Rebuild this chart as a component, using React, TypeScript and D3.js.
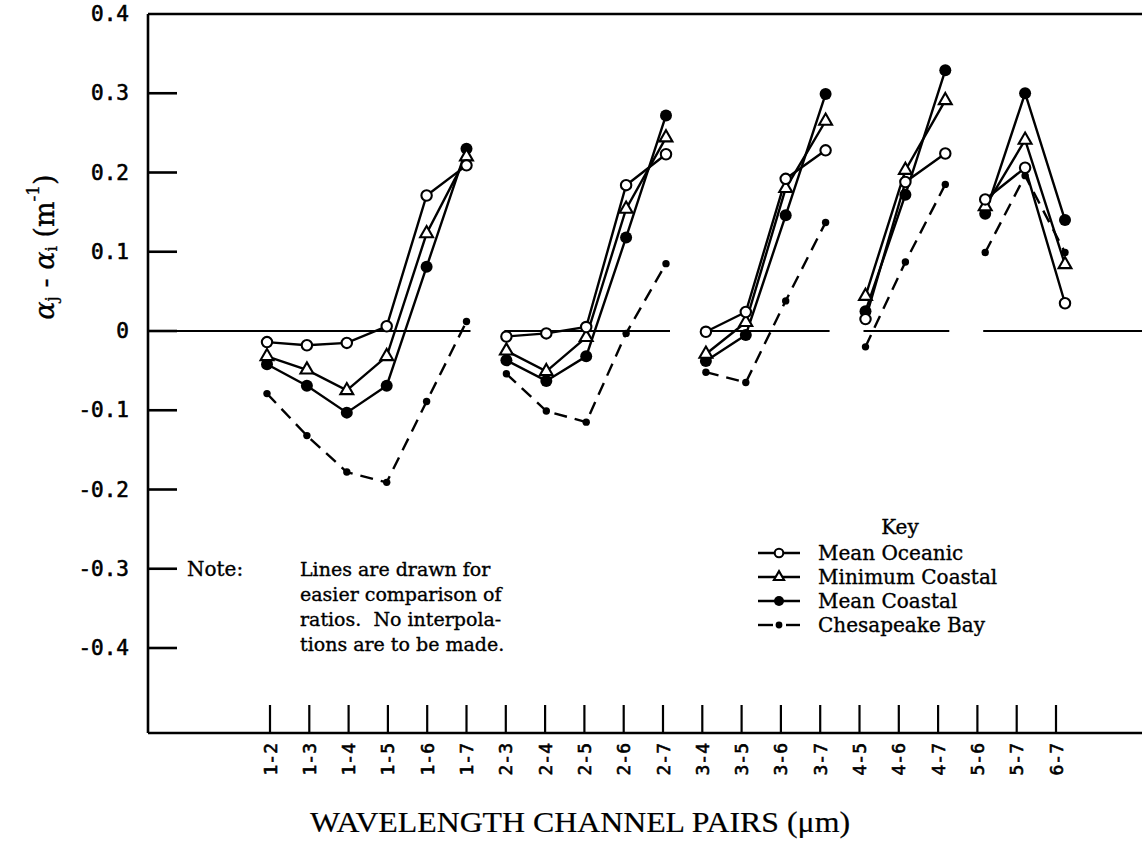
import React from 'react';
import * as d3 from 'd3';

const categories = ["1-2","1-3","1-4","1-5","1-6","1-7","2-3","2-4","2-5","2-6","2-7","3-4","3-5","3-6","3-7","4-5","4-6","4-7","5-6","5-7","6-7"];
const groupRanges: [number, number][] = [[0, 5], [6, 10], [11, 14], [15, 17], [18, 20]];

const meanOceanic = [-0.014, -0.018, -0.015, 0.006, 0.171, 0.209, -0.007, -0.003, 0.005, 0.184, 0.223, -0.001, 0.024, 0.192, 0.228, 0.015, 0.188, 0.224, 0.166, 0.206, 0.035];
const minimumCoastal = [-0.032, -0.049, -0.075, -0.032, 0.123, 0.220, -0.025, -0.051, -0.008, 0.154, 0.244, -0.029, 0.011, 0.180, 0.265, 0.044, 0.203, 0.291, 0.157, 0.241, 0.084];
const meanCoastal = [-0.042, -0.069, -0.103, -0.069, 0.081, 0.230, -0.037, -0.063, -0.032, 0.118, 0.272, -0.038, -0.005, 0.146, 0.299, 0.025, 0.172, 0.329, 0.148, 0.300, 0.140];
const chesapeakeBay = [-0.079, -0.132, -0.178, -0.191, -0.089, 0.012, -0.054, -0.101, -0.115, -0.003, 0.085, -0.052, -0.065, 0.038, 0.137, -0.020, 0.087, 0.185, 0.099, 0.196, 0.099];

const yTicks = [0.3, 0.2, 0.1, 0, -0.1, -0.2, -0.3, -0.4];
const yTickLabels = ["0.4", "0.3", "0.2", "0.1", "0", "-0.1", "-0.2", "-0.3", "-0.4"];
const yLabelValues = [0.4, 0.3, 0.2, 0.1, 0, -0.1, -0.2, -0.3, -0.4];

const legendLabels = ["Mean Oceanic", "Minimum Coastal", "Mean Coastal", "Chesapeake Bay"];
const noteLines = ["Lines are drawn for", "easier comparison of", "ratios.  No interpola-", "tions are to be made."];

type Marker = 'open' | 'tri' | 'filled' | 'small';
const seriesList: { values: number[]; marker: Marker; dashed: boolean }[] = [
  { values: chesapeakeBay, marker: 'small', dashed: true },
  { values: meanCoastal, marker: 'filled', dashed: false },
  { values: minimumCoastal, marker: 'tri', dashed: false },
  { values: meanOceanic, marker: 'open', dashed: false },
];
const legendMarkers: Marker[] = ['open', 'tri', 'filled', 'small'];

const W = 1142, H = 849;
const LEFT = 148, TOP = 14, BOTTOM = 733, RIGHT = 1142;
const triPath = d3.symbol().type(d3.symbolTriangle).size(72)() as string;
const triPathSmall = d3.symbol().type(d3.symbolTriangle).size(45)() as string;

function MarkerGlyph({ m, cx, cy, small }: { m: Marker; cx: number; cy: number; small?: boolean }) {
  if (m === 'open') return <circle cx={cx} cy={cy} r={small ? 4.3 : 5.2} fill="#fff" stroke="#000" strokeWidth={2.1} />;
  if (m === 'filled') return <circle cx={cx} cy={cy} r={small ? 5 : 6} fill="#000" />;
  if (m === 'small') return <circle cx={cx} cy={cy} r={small ? 3.4 : 3.7} fill="#000" />;
  return <path d={small ? triPathSmall : triPath} transform={`translate(${cx},${cy})`} fill="#fff" stroke="#000" strokeWidth={2.1} />;
}

export default function App() {
  const x = d3.scalePoint<string>().domain(categories).range([267, 1065]);
  const xt = d3.scalePoint<string>().domain(categories).range([270, 1056]);
  const y = d3.scaleLinear().domain([-0.4, 0.4]).range([648, 14]);

  const mono = "'DejaVu Sans Mono', monospace";
  const serif = "'DejaVu Serif', serif";
  const ink = { fill: '#000', stroke: '#000', strokeWidth: 0.35 };

  return (
    <svg width={W} height={H} style={{ position: 'absolute', left: 0, top: 0, background: '#fff' }}>
      <rect x={0} y={0} width={W} height={H} fill="#fff" />
      {/* frame */}
      <line x1={LEFT} y1={TOP} x2={LEFT} y2={BOTTOM} stroke="#000" strokeWidth={2.6} />
      <line x1={LEFT} y1={TOP} x2={RIGHT} y2={TOP} stroke="#000" strokeWidth={2.6} />
      <line x1={LEFT} y1={BOTTOM} x2={RIGHT} y2={BOTTOM} stroke="#000" strokeWidth={2.6} />
      {/* y ticks */}
      {yTicks.map((v) => (
        <line key={v} x1={LEFT} x2={LEFT + 29} y1={y(v)} y2={y(v)} stroke="#000" strokeWidth={2.6} />
      ))}
      {yLabelValues.map((v, i) => (
        <text key={v} x={129} y={y(v)} textAnchor="end" dominantBaseline="central" fontFamily={mono} fontSize={21} {...ink} strokeWidth={0.6}>{yTickLabels[i]}</text>
      ))}
      {/* zero line segments */}
      {groupRanges.map(([s, e], g) => {
        const x0 = g === 0 ? LEFT : (x(categories[s]) as number) - 2;
        const x1 = g === groupRanges.length - 1 ? RIGHT : (x(categories[e]) as number) + 4;
        return <line key={g} x1={x0} x2={x1} y1={y(0)} y2={y(0)} stroke="#000" strokeWidth={1.9} />;
      })}
      {/* x ticks */}
      {categories.map((c) => (
        <g key={c}>
          <line x1={xt(c)} x2={xt(c)} y1={705} y2={BOTTOM} stroke="#000" strokeWidth={2.2} />
          <text transform={`translate(${xt(c)},743) rotate(-90)`} textAnchor="end" dominantBaseline="central" fontFamily={mono} fontSize={18} {...ink} strokeWidth={0.6}>{c}</text>
        </g>
      ))}
      {/* series lines */}
      {seriesList.map((s, si) => (
        <g key={si}>
          {groupRanges.map(([a, b], g) => {
            const idx = d3.range(a, b + 1);
            const gen = d3.line<number>().x((i) => x(categories[i]) as number).y((i) => y(s.values[i]));
            return <path key={g} d={gen(idx) as string} fill="none" stroke="#000" strokeWidth={2.4} strokeDasharray={s.dashed ? '13,8' : undefined} />;
          })}
        </g>
      ))}
      {/* markers */}
      {seriesList.map((s, si) => (
        <g key={'m' + si}>
          {s.values.map((v, i) => (
            <MarkerGlyph key={i} m={s.marker} cx={x(categories[i]) as number} cy={y(v)} />
          ))}
        </g>
      ))}
      {/* note */}
      <text x={187} y={569} dominantBaseline="central" fontFamily={serif} fontSize={20} {...ink}>Note:</text>
      {noteLines.map((t, i) => (
        <text key={i} x={300} y={569 + i * 25} dominantBaseline="central" fontFamily={serif} fontSize={19} {...ink} style={{ whiteSpace: 'pre' }}>{t}</text>
      ))}
      {/* legend */}
      <text x={900} y={527} textAnchor="middle" dominantBaseline="central" fontFamily={serif} fontSize={20} {...ink}>Key</text>
      {legendLabels.map((t, i) => {
        const ly = 553 + i * 24;
        const m = legendMarkers[i];
        return (
          <g key={t}>
            {m === 'small' ? (
              <>
                <line x1={758} x2={773} y1={ly} y2={ly} stroke="#000" strokeWidth={2.4} />
                <line x1={786} x2={800} y1={ly} y2={ly} stroke="#000" strokeWidth={2.4} />
              </>
            ) : (
              <line x1={758} x2={800} y1={ly} y2={ly} stroke="#000" strokeWidth={2.4} />
            )}
            <MarkerGlyph m={m} cx={779} cy={ly} small />
            <text x={818} y={ly} dominantBaseline="central" fontFamily={serif} fontSize={20} {...ink}>{t}</text>
          </g>
        );
      })}
      {/* axis titles */}
      <text x={580} y={822} textAnchor="middle" dominantBaseline="central" fontFamily="'Liberation Serif', serif" fontSize={29} textLength={540} lengthAdjust="spacingAndGlyphs" {...ink} strokeWidth={0.2}>WAVELENGTH CHANNEL PAIRS (μm)</text>
      <text transform="translate(44,247) rotate(-90)" textAnchor="middle" dominantBaseline="central" fontFamily={serif} fontSize={27} {...ink}>
        <tspan fontStyle="italic">α</tspan><tspan fontSize={17} dy={7}>j</tspan><tspan dy={-7}> - </tspan><tspan fontStyle="italic">α</tspan><tspan fontSize={17} dy={7}>i</tspan><tspan dy={-7}> (m</tspan><tspan fontSize={17} dy={-11}>-1</tspan><tspan dy={11}>)</tspan>
      </text>
    </svg>
  );
}
